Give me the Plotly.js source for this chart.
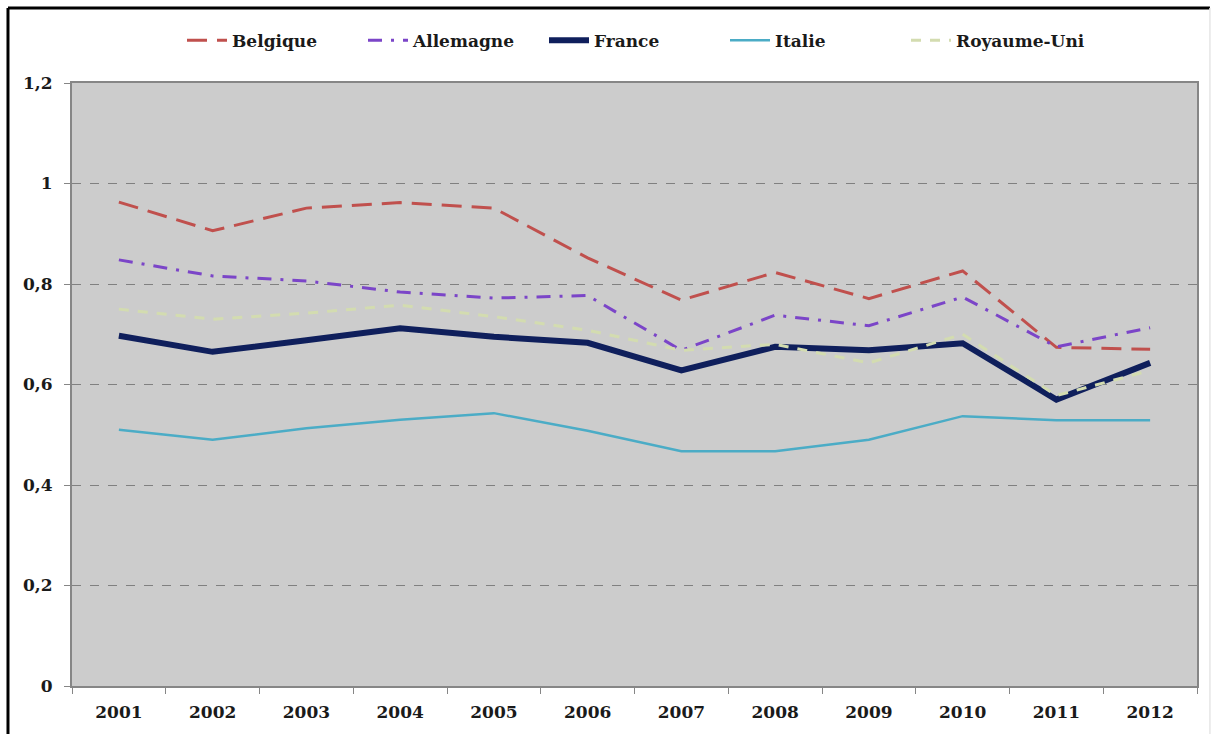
<!DOCTYPE html>
<html>
<head>
<meta charset="utf-8">
<script src="https://cdn.plot.ly/plotly-3.0.1.min.js"></script>
<style>
html,body{margin:0;padding:0;background:#fff;}
#chart{width:1219px;height:734px;}
</style>
</head>
<body>
<div id="chart"></div>
<script>
const years = ['2001','2002','2003','2004','2005','2006','2007','2008','2009','2010','2011','2012'];
const belgique   = [0.963,0.906,0.951,0.962,0.951,0.852,0.768,0.823,0.771,0.826,0.674,0.670];
const allemagne  = [0.848,0.816,0.806,0.784,0.772,0.777,0.668,0.738,0.717,0.774,0.675,0.713];
const france     = [0.697,0.665,0.688,0.712,0.695,0.683,0.628,0.675,0.668,0.682,0.570,0.643];
const italie     = [0.510,0.490,0.513,0.530,0.543,0.508,0.467,0.467,0.490,0.537,0.529,0.529];
const royaumeUni = [0.750,0.730,0.742,0.758,0.735,0.708,0.668,0.680,0.643,0.700,0.578,0.628];
const yTickVals  = [0,0.2,0.4,0.6,0.8,1,1.2];
const yTickText  = ['0','0,2','0,4','0,6','0,8','1','1,2'];

const serif = {family:'"DejaVu Serif", serif', size:17, color:'#1a1a1a', weight:'bold'};

const traces = [
  {name:'Belgique', x:years, y:belgique, type:'scatter', mode:'lines',
   line:{color:'#C0504D', width:3, dash:'20px,10px'}},
  {name:'Allemagne', x:years, y:allemagne, type:'scatter', mode:'lines',
   line:{color:'#7B45C8', width:3, dash:'14px,9px,3px,9px'}},
  {name:'France', x:years, y:france, type:'scatter', mode:'lines',
   line:{color:'#0F1F5C', width:6}},
  {name:'Italie', x:years, y:italie, type:'scatter', mode:'lines',
   line:{color:'#4BACC6', width:2.5}},
  {name:'Royaume-Uni', x:years, y:royaumeUni, type:'scatter', mode:'lines',
   line:{color:'#D3DCB0', width:3, dash:'10px,9px'}}
];

const layout = {
  width:1219, height:734,
  paper_bgcolor:'#ffffff', plot_bgcolor:'#CCCCCC',
  margin:{l:72, r:22, t:83, b:48},
  font:serif,
  showlegend:true,
  legend:{orientation:'h', x:0.5, xanchor:'center', y:1.07, yanchor:'middle',
          font:serif, bgcolor:'rgba(0,0,0,0)', itemwidth:40,
          entrywidth:126, entrywidthmode:'pixels'},
  xaxis:{type:'category', range:[-0.5, 11.5], tickson:'boundaries', ticks:'outside', ticklen:6,
         tickcolor:'#868686', showline:true, linecolor:'#868686', linewidth:2,
         mirror:true, showgrid:false, tickfont:serif, zeroline:false, ticklabelstandoff:10},
  yaxis:{range:[0,1.2], tickvals:yTickVals, ticktext:yTickText, ticks:'outside',
         ticklen:6, tickcolor:'#868686', showline:true, linecolor:'#868686', linewidth:2,
         mirror:true, showgrid:true, gridcolor:'#808080', gridwidth:1, griddash:'dash',
         zeroline:false, tickfont:serif, ticklabelstandoff:8},
  shapes:[
    {type:'line', xref:'paper', yref:'paper', x0:-0.0569, x1:1.0115, y0:1.1244, y1:1.1244,
     line:{color:'#000', width:3}},
    {type:'line', xref:'paper', yref:'paper', x0:-0.0569, x1:-0.0569, y0:1.1244, y1:-0.2,
     line:{color:'#000', width:3}},
    {type:'line', xref:'paper', yref:'paper', x0:1.0115, x1:1.0115, y0:1.1244, y1:-0.2,
     line:{color:'#E6E6E6', width:1.5}}
  ]
};

Plotly.newPlot('chart', traces, layout, {displayModeBar:false, staticPlot:true});
</script>
</body>
</html>
